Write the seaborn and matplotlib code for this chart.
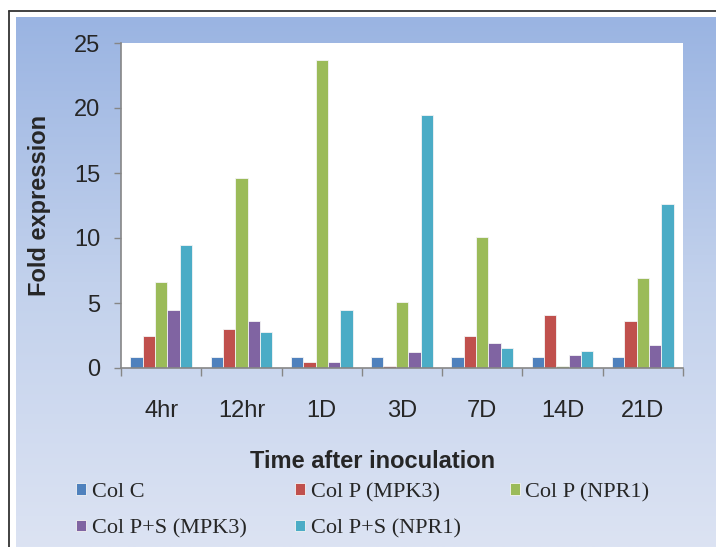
import numpy as np
import pandas as pd
import matplotlib
matplotlib.use("Agg")
import matplotlib.pyplot as plt
import seaborn as sns
from matplotlib.lines import Line2D
from matplotlib.colors import LinearSegmentedColormap
from matplotlib.ticker import FixedLocator

# ---- data ----
times = ["4hr", "12hr", "1D", "3D", "7D", "14D", "21D"]
series = ["Col C", "Col P (MPK3)", "Col P (NPR1)", "Col P+S (MPK3)", "Col P+S (NPR1)"]
col_c = [0.85, 0.85, 0.85, 0.85, 0.85, 0.85, 0.85]
col_p_mpk3 = [2.5, 3.0, 0.5, 0.15, 2.5, 4.05, 3.6]
col_p_npr1 = [6.65, 14.6, 23.7, 5.1, 10.1, 0.15, 6.9]
col_ps_mpk3 = [4.5, 3.6, 0.5, 1.2, 1.9, 0.97, 1.8]
col_ps_npr1 = [9.5, 2.75, 4.5, 19.5, 1.56, 1.33, 12.6]
colors = ["#4F81BD", "#C0504D", "#9BBB59", "#8064A2", "#4BACC6"]

values = [col_c, col_p_mpk3, col_p_npr1, col_ps_mpk3, col_ps_npr1]
df = pd.DataFrame(
    [(t, s, v) for s, vals in zip(series, values) for t, v in zip(times, vals)],
    columns=["Time", "Series", "Fold"],
)

sns.set_theme(style="white")
plt.rcParams["font.family"] = ["Liberation Sans", "DejaVu Sans"]

W, H = 716, 547
fig = plt.figure(figsize=(W / 100, H / 100), dpi=100, facecolor="white")

# gradient panel background
bg = fig.add_axes([16 / W, 0, 1 - 16 / W, 1 - 17 / H], zorder=0)
cmap = LinearSegmentedColormap.from_list("bg", ["#9AB4E2", "#C2D1EC", "#DCE3F3"])
bg.imshow(np.linspace(0, 1, 256).reshape(-1, 1), aspect="auto", cmap=cmap,
          extent=[0, 1, 0, 1])
bg.set_axis_off()

# outer border lines
fig.add_artist(Line2D([9 / W, 9 / W], [0, 1 - 11 / H], transform=fig.transFigure,
                      color="#333333", lw=1.3))
fig.add_artist(Line2D([9 / W, 1], [1 - 11 / H, 1 - 11 / H], transform=fig.transFigure,
                      color="#333333", lw=1.3))

L, R, T, B = 121, 683, 43, 368
ax = fig.add_axes([L / W, 1 - B / H, (R - L) / W, (B - T) / H], zorder=2)
ax.set_facecolor("white")

sns.barplot(data=df, x="Time", y="Fold", hue="Series", order=times, hue_order=series,
            palette=colors, saturation=1, width=0.77, edgecolor="#F4F4F4", linewidth=0.6,
            errorbar=None, ax=ax, legend=True)

ax.set_ylim(0, 25)
ax.set_xlim(-0.5, len(times) - 0.5)
ax.set_yticks([0, 5, 10, 15, 20, 25])
ax.tick_params(axis="y", which="major", direction="out", length=5, width=1,
               color="#868686", labelsize=17, pad=10, left=True)
ax.tick_params(axis="x", which="major", length=0, labelsize=17, pad=23)
ax.xaxis.set_minor_locator(FixedLocator(np.arange(-0.5, len(times), 1.0)))
ax.tick_params(axis="x", which="minor", direction="out", length=6, width=1,
               color="#868686", bottom=True)
for s in ["top", "right"]:
    ax.spines[s].set_visible(False)
for s in ["left", "bottom"]:
    ax.spines[s].set_color("#868686")
    ax.spines[s].set_linewidth(1.2)

ax.set_xlabel("Time after inoculation", fontsize=17, fontweight="bold")
ax.set_ylabel("Fold expression", fontsize=17, fontweight="bold")
ax.xaxis.set_label_coords((373 - L) / (R - L), (B - 450) / (B - T))
ax.xaxis.label.set_va("top")
ax.yaxis.set_label_coords((51 - L) / (R - L), 0.5)

handles, labels = ax.get_legend_handles_labels()
ax.get_legend().remove()
order = [0, 3, 1, 4, 2]
fig.legend([handles[i] for i in order], [labels[i] for i in order],
           loc="upper left", bbox_to_anchor=(76 / W, 1 - 483 / H), ncol=3,
           frameon=False, handlelength=0.45, handleheight=0.45, handletextpad=0.25,
           columnspacing=2.2, labelspacing=0.76, borderpad=0, borderaxespad=0,
           prop={"family": ["Liberation Serif", "DejaVu Serif"], "size": 16})

fig.savefig("out.png", dpi=100, facecolor="white")
